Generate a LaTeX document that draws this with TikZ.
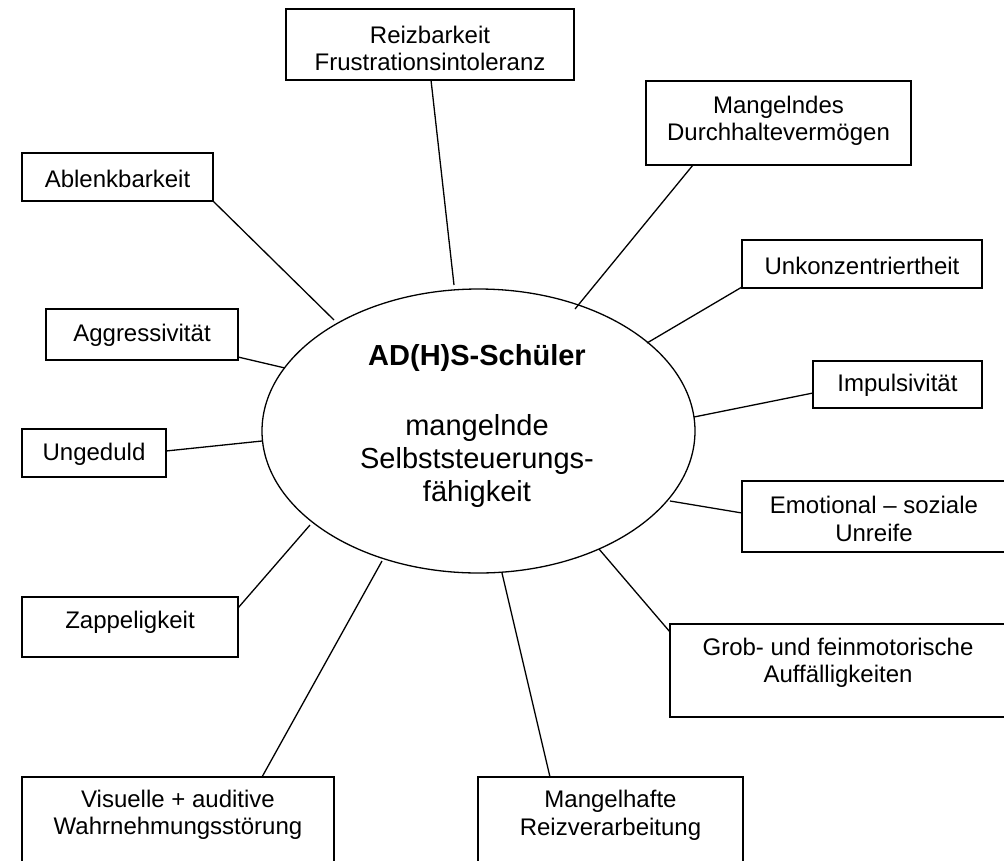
\documentclass[tikz,border=0pt]{standalone}
\usepackage{fontspec}
\setmainfont{Liberation Sans}
\usetikzlibrary{shapes.geometric}
\tikzset{
  frame/.style={draw, rectangle, line width=1.3pt, inner sep=0pt, outer sep=0pt},
  txt/.style={align=center, inner sep=0pt, font=\fontsize{24}{27.5}\selectfont},
  bigtxt/.style={align=center, inner sep=0pt, font=\fontsize{29}{33}\selectfont},
  con/.style={line width=1.3pt},
}
\begin{document}
\begin{tikzpicture}[x=1pt,y=-1pt]
\useasboundingbox (0,0) rectangle (1004,860);
\clip (0,0) rectangle (1004,860);

% central ellipse
\node[ellipse, draw, line width=1.3pt, minimum width=433pt, minimum height=284pt, inner sep=0pt] (ell) at (478.5,431) {};
\node[bigtxt] (elltxt) at (477,426) {\textbf{AD(H)S-Schüler}\\[37pt]mangelnde\\Selbststeuerungs-\\fähigkeit};

% frames
\node[frame, minimum width=288pt, minimum height=71pt] (reiz) at (430,44.5) {};
\node[frame, minimum width=265pt, minimum height=84pt] (mang) at (778.5,123) {};
\node[frame, minimum width=191pt, minimum height=48pt] (ablenk) at (117.5,177) {};
\node[frame, minimum width=240pt, minimum height=48pt] (unk) at (862,264) {};
\node[frame, minimum width=192pt, minimum height=51pt] (aggr) at (142,334.5) {};
\node[frame, minimum width=169pt, minimum height=47pt] (imp) at (897.5,384.5) {};
\node[frame, minimum width=144pt, minimum height=48pt] (ung) at (94,453) {};
\node[frame, minimum width=264pt, minimum height=71pt] (emo) at (874,516.5) {};
\node[frame, minimum width=216pt, minimum height=60pt] (zap) at (130,627) {};
\node[frame, minimum width=336pt, minimum height=93pt] (grob) at (838,670.5) {};
\node[frame, minimum width=312pt, minimum height=103pt] (vis) at (178,828.5) {};
\node[frame, minimum width=265pt, minimum height=103pt] (mh) at (610.5,828.5) {};

% texts
\node[txt] (reizT) at (430,48.5) {Reizbarkeit\\Frustrationsintoleranz};
\node[txt] (mangT) at (778.5,121) {Mangelndes\\Durchhaltevermögen};
\node[txt] (ablenkT) at (117.5,179) {Ablenkbarkeit};
\node[txt] (unkT) at (862,266) {Unkonzentriertheit};
\node[txt] (aggrT) at (142,335) {Aggressivität};
\node[txt] (impT) at (897.5,385) {Impulsivität};
\node[txt] (ungT) at (94,454) {Ungeduld};
\node[txt] (emoT) at (874,519) {Emotional – soziale\\Unreife};
\node[txt] (zapT) at (130,622) {Zappeligkeit};
\node[txt] (grobT) at (838,663) {Grob- und feinmotorische\\Auffälligkeiten};
\node[txt] (visT) at (178,815) {Visuelle + auditive\\Wahrnehmungsstörung};
\node[txt] (mhT) at (610.5,815.5) {Mangelhafte\\Reizverarbeitung};

% ellipse-side ends
\coordinate (e1) at (454,285);
\coordinate (e2) at (575,309);
\coordinate (e3) at (334,320);
\coordinate (e4) at (647,343);
\coordinate (e5) at (285,368);
\coordinate (e6) at (694,417);
\coordinate (e7) at (262,441);
\coordinate (e8) at (670,501);
\coordinate (e9) at (310,525);
\coordinate (e10) at (599,549);
\coordinate (e11) at (382,561);
\coordinate (e12) at (502,573);

% connectors
\draw[con] ([xshift=1pt]reiz.south) -- (e1);
\draw[con] ([xshift=47pt]mang.south west) -- (e2);
\draw[con] (ablenk.south east) -- (e3);
\draw[con] ([yshift=1pt]unk.south west) -- (e4);
\draw[con] ([yshift=3pt]aggr.south east) -- (e5);
\draw[con] ([yshift=-8.5pt]imp.west) -- (e6);
\draw[con] ([yshift=2pt]ung.east) -- (e7);
\draw[con] ([yshift=3.5pt]emo.west) -- (e8);
\draw[con] ([yshift=-11pt]zap.north east) -- (e9);
\draw[con] ([yshift=-8pt]grob.north west) -- (e10);
\draw[con] ([xshift=240pt]vis.north west) -- (e11);
\draw[con] ([xshift=72pt]mh.north west) -- (e12);
\end{tikzpicture}
\end{document}
